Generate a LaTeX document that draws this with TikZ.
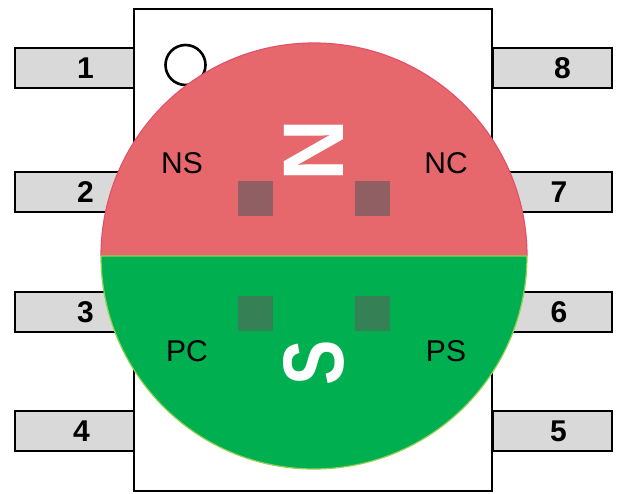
\documentclass[tikz,border=0pt]{standalone}
\usepackage{graphicx}
\usepackage{fontspec}
\setmainfont{Liberation Sans}
\definecolor{northred}{HTML}{E7686C}
\definecolor{northedge}{HTML}{E2526A}
\definecolor{southgreen}{HTML}{00B050}
\definecolor{southedge}{HTML}{92D050}
\definecolor{padred}{HTML}{905F63}
\definecolor{padgreen}{HTML}{358055}
\definecolor{pingray}{HTML}{D9D9D9}
\tikzset{
  pinbox/.style={draw=black,line width=2.6pt,fill=pingray,minimum width=119pt,minimum height=40pt,inner sep=0pt},
  pinnum/.style={font=\bfseries\fontsize{30}{34}\selectfont},
  padbox/.style={minimum size=35pt,inner sep=0pt},
  pole/.style={text=white,rotate=90,inner sep=0pt,font=\bfseries\fontsize{86}{90}\selectfont},
  contact/.style={font=\fontsize{30}{34}\selectfont}
}
\begin{document}
\begin{tikzpicture}[x=1pt,y=1pt]
  \useasboundingbox (0,0) rectangle (621,493);
  % Pins on both sides
  \foreach \ly/\ln/\lx/\rn/\rx in {425/1/85.5/8/562.5,301/2/85.5/7/559,181/3/85.5/6/559,62/4/81.5/5/558.5}{
    \node[pinbox] (pin\ln) at (74.5,\ly) {};
    \node[pinbox] (pin\rn) at (552.5,\ly) {};
    \node[pinnum] (num\ln) at (\lx,\ly) {\ln};
    \node[pinnum] (num\rn) at (\rx,\ly) {\rn};
  }
  % Package body and pin 1 mark
  \node[draw=black,fill=white,line width=2.6pt,minimum width=358pt,minimum height=482pt,inner sep=0pt] (body) at (313,243) {};
  \node[circle,draw=black,fill=white,line width=2.6pt,minimum size=40pt,inner sep=0pt] (mark) at (185.5,428) {};
  % Magnet halves
  \coordinate (M) at (314,237);
  \fill[southgreen] (101,237) arc(180:360:213) -- cycle;
  \fill[northred] (101,237) arc(180:0:213) -- cycle;
  \draw[northedge,line width=1.2pt] (101,237) arc(180:0:213);
  \draw[southedge,line width=1.2pt] (101,237) arc(180:360:213) -- cycle;
  % Sensor pads
  \node[padbox,fill=padred] (padNL) at (255.5,294.5) {};
  \node[padbox,fill=padred] (padNR) at (372.5,294.5) {};
  \node[padbox,fill=padgreen] (padSL) at (255.5,179.5) {};
  \node[padbox,fill=padgreen] (padSR) at (372.5,179.5) {};
  % Labels
  \node[pole] (north) at (314,343) {N};
  \node[pole] (south) at (314,130) {\scalebox{0.79}[1]{S}};
  \node[contact] (ns) at (182,330) {NS};
  \node[contact] (nc) at (446,330) {NC};
  \node[contact] (pc) at (187,142) {PC};
  \node[contact] (ps) at (446,142) {PS};
\end{tikzpicture}
\end{document}
